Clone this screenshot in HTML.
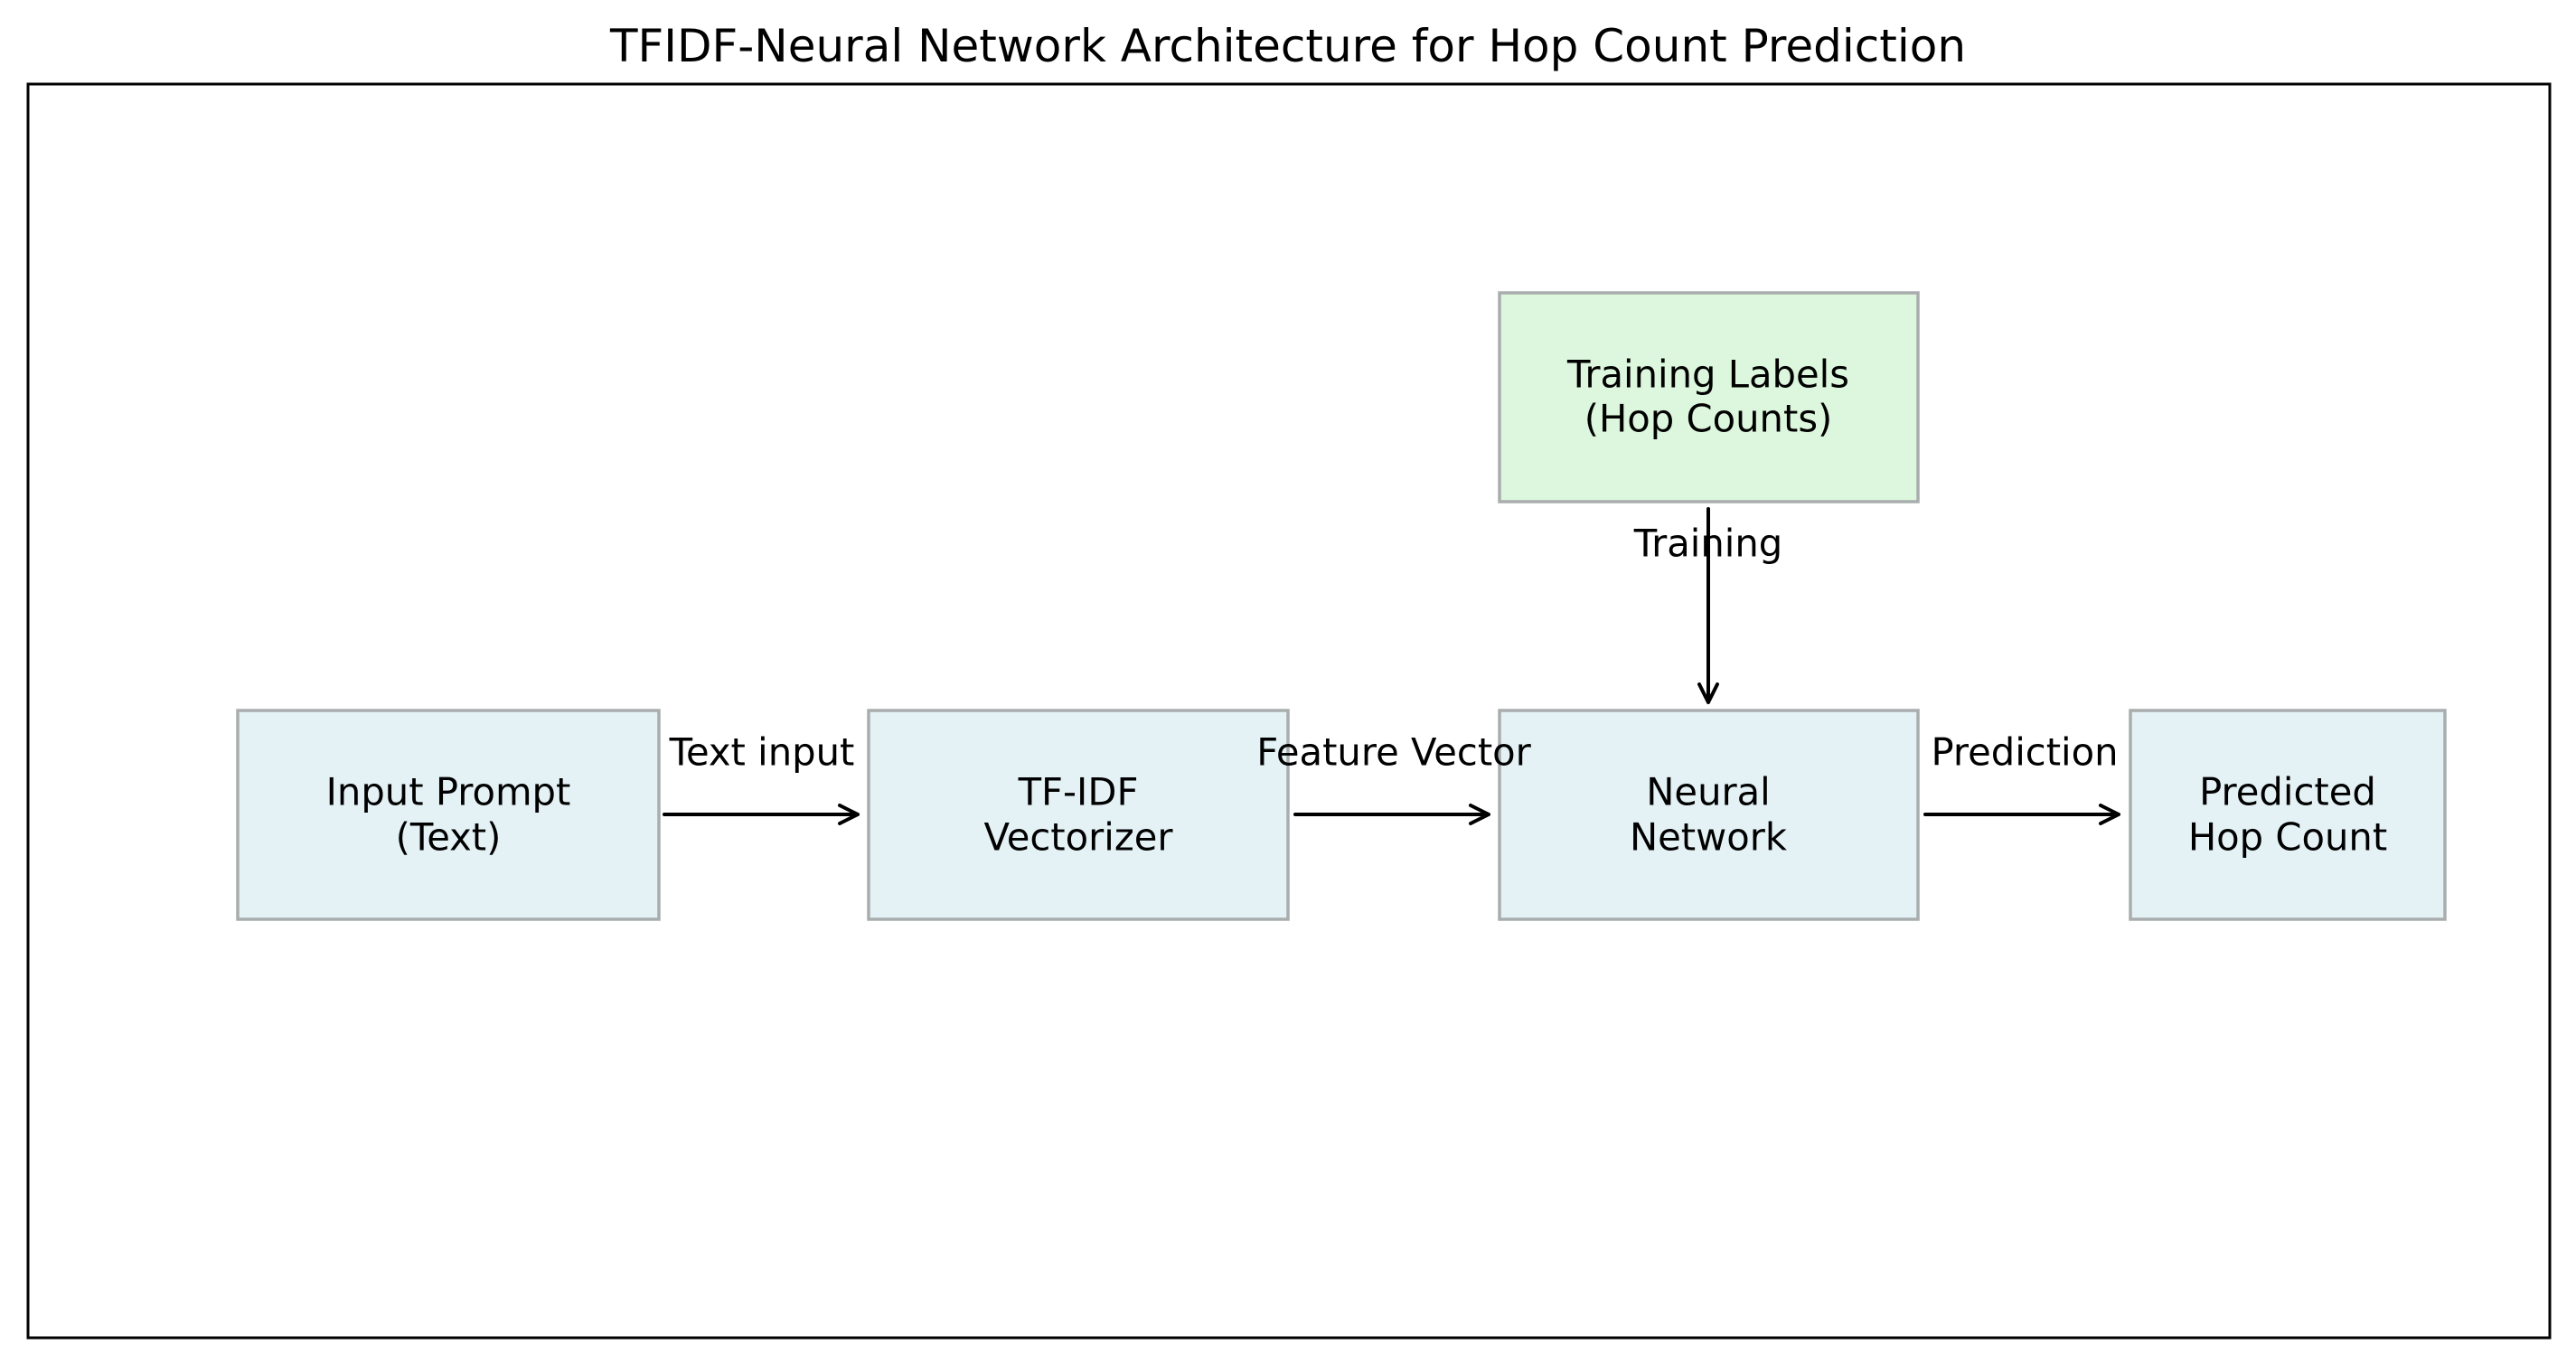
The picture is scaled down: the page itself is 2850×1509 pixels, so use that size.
<!DOCTYPE html>
<html><head><meta charset="utf-8"><style>
html,body{margin:0;padding:0;background:#fff;}
svg{display:block;}
text{font-family:"DejaVu Sans","Liberation Sans",sans-serif;fill:#000;}
</style></head><body>
<svg width="2850" height="1509" viewBox="0 0 2850 1509" xmlns="http://www.w3.org/2000/svg">
<rect x="0" y="0" width="2850" height="1509" fill="#fff"/>
<text x="1425" y="68" font-size="50" text-anchor="middle">TFIDF-Neural Network Architecture for Hop Count Prediction</text>
<rect x="31" y="93" width="2790" height="1387" fill="none" stroke="#000" stroke-width="3"/>
<g stroke="#a9adad" stroke-width="3.5">
<rect x="263" y="786" width="466" height="231" fill="#e4f2f6"/>
<rect x="961" y="786" width="464" height="231" fill="#e4f2f6"/>
<rect x="1659" y="786" width="463" height="231" fill="#e4f2f6"/>
<rect x="2357" y="786" width="348" height="231" fill="#e4f2f6"/>
<rect x="1659" y="324" width="463" height="231" fill="#dcf7dd"/>
</g>
<g font-size="41.7" text-anchor="middle" dominant-baseline="central">
<text x="496" y="876">Input Prompt</text><text x="496" y="926">(Text)</text>
<text x="1193" y="876">TF-IDF</text><text x="1193" y="926">Vectorizer</text>
<text x="1890" y="876">Neural</text><text x="1890" y="926">Network</text>
<text x="2531" y="876">Predicted</text><text x="2531" y="926">Hop Count</text>
<text x="1890" y="414">Training Labels</text><text x="1890" y="463">(Hop Counts)</text>
<text x="843" y="832">Text input</text>
<text x="1542" y="832">Feature Vector</text>
<text x="2240" y="832">Prediction</text>
<text x="1890" y="601">Training</text>
</g>
<g stroke="#000" stroke-width="4" fill="none" stroke-linecap="round" stroke-linejoin="round">
<path d="M735 901 H949 M929 891 L949 901 L929 911"/>
<path d="M1433 901 H1647 M1627 891 L1647 901 L1627 911"/>
<path d="M2130 901 H2344 M2324 891 L2344 901 L2324 911"/>
<path d="M1890 563 V777 M1880 757 L1890 777 L1900 757"/>
</g>
</svg>
</body></html>
